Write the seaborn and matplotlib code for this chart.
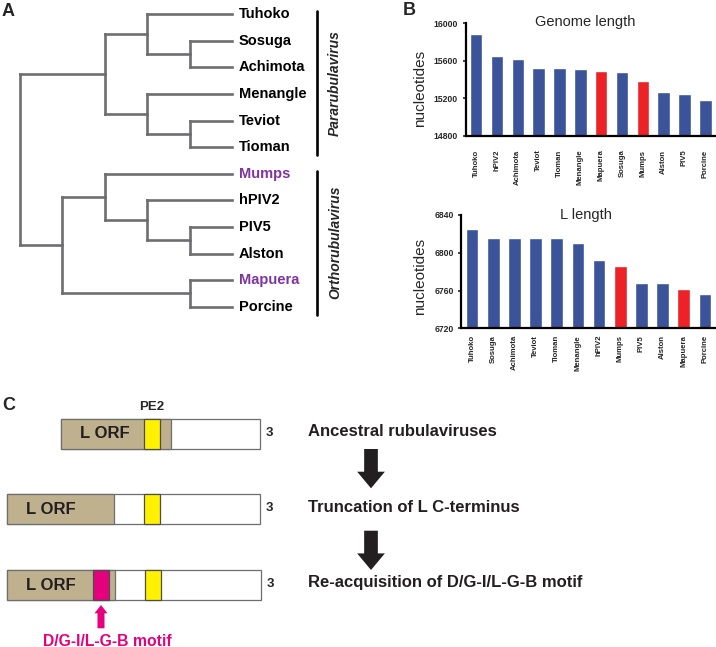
import matplotlib
matplotlib.use("Agg")
import matplotlib.pyplot as plt
import seaborn as sns
from matplotlib.patches import Rectangle, FancyArrow

# ---- panel B data ----
genome_names = ["Tuhoko", "hPIV2", "Achimota", "Teviot", "Tioman", "Menangle",
                "Mapuera", "Sosuga", "Mumps", "Alston", "PIV5", "Porcine"]
genome_len = [15890, 15654, 15624, 15522, 15522, 15516, 15486, 15480, 15384, 15270, 15246, 15180]
genome_ticks = [14800, 15200, 15600, 16000]

l_names = ["Tuhoko", "Sosuga", "Achimota", "Teviot", "Tioman", "Menangle",
           "hPIV2", "Mumps", "PIV5", "Alston", "Mapuera", "Porcine"]
l_len = [6825, 6816, 6816, 6816, 6816, 6810, 6792, 6786, 6768, 6768, 6762, 6756]
l_ticks = [6720, 6760, 6800, 6840]

highlight = ["Mumps", "Mapuera"]

# ---- panel A data: cladogram, internal node = (level, children), leaves at level 5 ----
leaves = ["Tuhoko", "Sosuga", "Achimota", "Menangle", "Teviot", "Tioman",
          "Mumps", "hPIV2", "PIV5", "Alston", "Mapuera", "Porcine"]
tree = (0, [(2, [(3, ["Tuhoko", (4, ["Sosuga", "Achimota"])]),
                 (3, ["Menangle", (4, ["Teviot", "Tioman"])])]),
            (1, [(2, ["Mumps", (3, ["hPIV2", (4, ["PIV5", "Alston"])])]),
                 (4, ["Mapuera", "Porcine"])])])
clades = [("Pararubulavirus", "Tuhoko", "Tioman"),
          ("Orthorubulavirus", "Mumps", "Porcine")]

# ---- panel C data: schematic of L ORF constructs ----
row_labels = ["Ancestral rubulaviruses", "Truncation of L C-terminus",
              "Re-acquisition of D/G-I/L-G-B motif"]
box_start = [61, 7, 7]
box_end = [260, 260, 261]
orf_end = [171, 114, 115]
pe2_start = [144, 144, 145]
motif_start = [None, None, 93]

BLUE = "#3B5499"
RED = "#EC2227"
GREY = "#6D6E71"
PURPLE = "#8034A0"
TAN = "#BFB08E"
YELLOW = "#FFF100"
MAGENTA = "#E5007D"

sns.set_theme(style="ticks")
plt.rcParams["font.family"] = ["Liberation Sans", "DejaVu Sans"]

W, H = 716, 647
fig = plt.figure(figsize=(W / 100, H / 100), dpi=100)


def px_rect(left, top, right, bottom):
    return [left / W, 1 - bottom / H, (right - left) / W, (bottom - top) / H]


# ---- B: bar charts ----
def bar_panel(rect, names, values, ticks, title, title_xy, label_x, label_y, xpad):
    ax = fig.add_axes(rect)
    pal = {n: (RED if n in highlight else BLUE) for n in names}
    sns.barplot(x=names, y=values, hue=names, palette=pal, legend=False,
                width=0.6, saturation=1, ax=ax)
    ax.set_ylim(ticks[0], ticks[-1])
    ax.set_yticks(ticks)
    ax.set_xlim(-0.5, len(names) - 0.5)
    sns.despine(ax=ax)
    for s in ["left", "bottom"]:
        ax.spines[s].set_linewidth(1.6)
        ax.spines[s].set_color("black")
    ax.tick_params(axis="x", length=0, pad=xpad, labelrotation=90, labelsize=5.6)
    ax.tick_params(axis="y", length=2.5, width=1.2, pad=3, labelsize=6.2)
    for lab in ax.get_xticklabels() + ax.get_yticklabels():
        lab.set_fontweight("bold")
    ax.set_ylabel("nucleotides", fontsize=11)
    ax.yaxis.set_label_coords(label_x, label_y)
    ax.text(title_xy[0], title_xy[1], title, transform=ax.transAxes,
            ha="center", va="center", fontsize=10.5)
    return ax


bar_panel(px_rect(465.7, 23.3, 715.7, 135.7), genome_names, genome_len, genome_ticks,
          "Genome length", (0.479, 1.014), -0.155, 0.42, 10)
bar_panel(px_rect(461.4, 215, 715.6, 328.3), l_names, l_len, l_ticks,
          "L length", (0.49, 1.0), -0.135, 0.457, 4.8)

# ---- A: tree ----
ax_t = fig.add_axes(px_rect(20, 14.3, 232, 306.7))
ax_t.set_xlim(0, 5)
ax_t.set_ylim(len(leaves) - 1, 0)
ax_t.axis("off")
line_kw = dict(color=GREY, lw=1.9, clip_on=False, solid_capstyle="projecting")


def draw(node):
    if isinstance(node, str):
        return 5, leaves.index(node)
    level, children = node
    ys = []
    for child in children:
        cl, cy = draw(child)
        ax_t.plot([level, cl], [cy, cy], **line_kw)
        ys.append(cy)
    ax_t.plot([level, level], [min(ys), max(ys)], **line_kw)
    return level, (min(ys) + max(ys)) / 2


draw(tree)
for i, name in enumerate(leaves):
    ax_t.annotate(name, (5, i), xytext=(5, 0), textcoords="offset points",
                  ha="left", va="center", fontsize=10.5, fontweight="bold",
                  color=PURPLE if name in highlight else "black")
for name, first, last in clades:
    y0, y1 = leaves.index(first) - 0.12, leaves.index(last) + 0.3
    ax_t.plot([7, 7], [y0, y1], color="black", lw=1.9, clip_on=False)
    ax_t.text(7.43, (y0 + y1) / 2, name, rotation=90, ha="center", va="center",
              fontsize=10, fontweight="bold", style="italic")

# ---- C: schematic ----
ax_c = fig.add_axes(px_rect(0, 380, W, H))
ax_c.set_xlim(0, W)
ax_c.set_ylim(H, 380)
ax_c.axis("off")
row_y = [434, 509, 585]
bh = 30
seg_w = 16
ek = dict(edgecolor=GREY, lw=0.9)
for i in range(3):
    y = row_y[i] - bh / 2
    ax_c.add_patch(Rectangle((box_start[i], y), box_end[i] - box_start[i], bh,
                             facecolor="white", **ek))
    ax_c.add_patch(Rectangle((box_start[i], y), orf_end[i] - box_start[i], bh,
                             facecolor=TAN, **ek))
    ax_c.add_patch(Rectangle((pe2_start[i], y), seg_w, bh, facecolor=YELLOW,
                             edgecolor="#4d4d4d", lw=0.9))
    if motif_start[i] is not None:
        ax_c.add_patch(Rectangle((motif_start[i], y), seg_w, bh, facecolor=MAGENTA,
                                 edgecolor="#4d4d4d", lw=0.9))
    ax_c.text(box_start[i] + 44, row_y[i], "L ORF", ha="center", va="center",
              fontsize=12, fontweight="bold", color="#231f20")
    ax_c.text(box_end[i] + 9, row_y[i] - 1, "3", ha="center", va="center",
              fontsize=9.5, fontweight="bold")
    ax_c.text(307.7, row_y[i] - 2, row_labels[i], ha="left", va="center",
              fontsize=12, fontweight="bold", color="#231f20")

ax_c.text(pe2_start[0] + seg_w / 2, 407, "PE2", ha="center", va="center",
          fontsize=9.5, fontweight="bold")

for y_top in [449, 530.7]:
    ax_c.add_patch(FancyArrow(371, y_top, 0, 39.3, width=13.7, head_width=27.7,
                              head_length=16.6, length_includes_head=True,
                              color="#231f20", lw=0))

mx = motif_start[2] + seg_w / 2
ax_c.add_patch(FancyArrow(mx, 628.3, 0, -23.3, width=7, head_width=13,
                          head_length=8.3, length_includes_head=True,
                          color=MAGENTA, lw=0))
ax_c.text(107.5, 641, "D/G-I/L-G-B motif", ha="center", va="center",
          fontsize=11.3, fontweight="bold", color=MAGENTA)

# panel letters
for letter, x, y in [("A", 2, 3), ("B", 403, 2), ("C", 2, 397)]:
    fig.text(x / W, 1 - y / H, letter, ha="left", va="top",
             fontsize=13, fontweight="bold")

fig.savefig("out.png", dpi=100)
